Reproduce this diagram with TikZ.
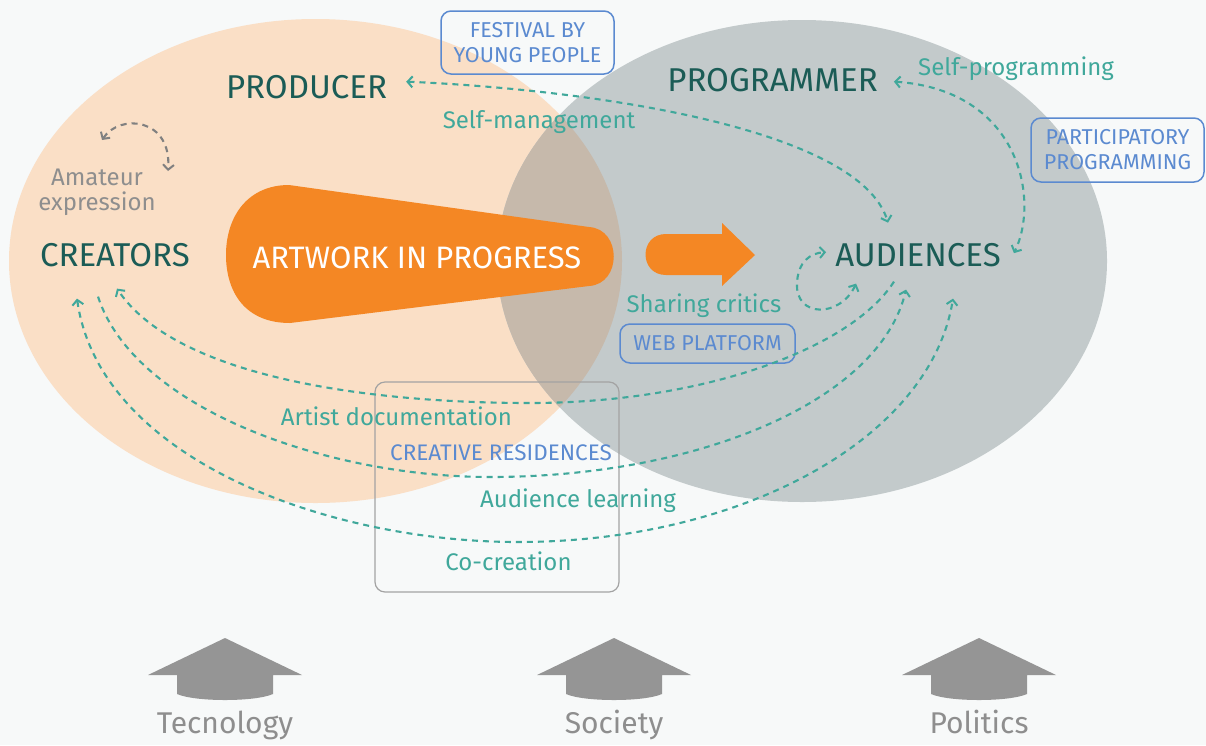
\documentclass[tikz,border=0pt]{standalone}
\usepackage{fontspec}
\setmainfont{Fira Sans}
\usepackage{tikz}
\usetikzlibrary{calc}
\usetikzlibrary{arrows.meta}

\definecolor{bgcol}{HTML}{F7F9F9}
\definecolor{peach}{HTML}{FADFC6}
\definecolor{slate}{HTML}{C3CACB}
\definecolor{mixcol}{HTML}{C6B9AB}
\definecolor{orng}{HTML}{F48724}
\definecolor{darkteal}{HTML}{1B5C56}
\definecolor{lineteal}{HTML}{40A89B}
\definecolor{boxblue}{HTML}{5B8AD0}
\definecolor{txtgrey}{HTML}{8E8E8E}
\definecolor{arrgrey}{HTML}{959595}
\definecolor{loopgrey}{HTML}{808080}
\definecolor{framegrey}{HTML}{A3A3A3}

\begin{document}
\begin{tikzpicture}[x=1pt,y=-1pt,>={Straight Barb[length=5pt,width=11pt,line width=2pt]}]
	\tikzset{
		big/.style={anchor=base,inner sep=0pt,text=darkteal,font=\fontsize{33}{36}\selectfont},
		lbl/.style={anchor=base,inner sep=0pt,text=lineteal,font=\fontsize{24}{26}\selectfont},
		tag/.style={draw=boxblue,line width=1.5pt,rounded corners=10pt,text=boxblue,align=center,inner sep=0pt,font=\fontsize{21.5}{25}\selectfont},
		link/.style={dash pattern=on 6pt off 5pt,line width=2.1pt,draw=lineteal}
	}
	\useasboundingbox (0,0) rectangle (1206,745);
	\fill[bgcol] (0,0) rectangle (1206,745);

	\fill[peach] (315.5,261) ellipse [x radius=306.5, y radius=242];
	\fill[slate] (802,261) ellipse [x radius=305, y radius=241];
	\begin{scope}
		\clip (315.5,261) ellipse [x radius=306.5, y radius=242];
		\fill[mixcol] (802,261) ellipse [x radius=305, y radius=241];
	\end{scope}

	\fill[orng] (289,185) -- (589,227) .. controls (622,229) and (622,284) .. (589,286) -- (290,323)
		.. controls (245,323) and (226,292) .. (226,255) .. controls (226,216) and (248,185) .. cycle;
	\fill[orng] (666,234) -- (722,234) -- (722,223) -- (755,255) -- (722,286) -- (722,275) -- (666,275)
		.. controls (638.7,275) and (638.7,234) .. cycle;

	\draw[framegrey,line width=1.2pt,rounded corners=10pt] (375,382) rectangle (619,592);

	\node[big] (prod) at (306.5,98) {PRODUCER};
	\node[big] (prog) at (772.5,91) {PROGRAMMER};
	\node[big] (crea) at (115,266) {CREATORS};
	\node[big] (aud) at (918,266) {AUDIENCES};
	\node[anchor=base,inner sep=0pt,text=white,font=\fontsize{31}{34}\selectfont] (art) at (417,268) {ARTWORK IN PROGRESS};
	\node[anchor=north,inner sep=0pt,align=center,text=txtgrey,font=\fontsize{24}{25}\selectfont] (amat) at (97,169) {Amateur\\expression};

	\node[lbl] (selfman) at (539,128) {Self-management};
	\node[lbl] (selfprog) at (1016,75) {Self-programming};
	\node[lbl] (share) at (704,312) {Sharing critics};
	\node[lbl] (artdoc) at (396.5,425) {Artist documentation};
	\node[lbl] (audlearn) at (578,507) {Audience learning};
	\node[lbl] (cocre) at (508.5,570) {Co-creation};
	\node[anchor=base,inner sep=0pt,text=boxblue,font=\fontsize{22.5}{25}\selectfont] (resid) at (501,460) {CREATIVE RESIDENCES};

	\node[tag,minimum width=173pt,minimum height=63pt] (fest) at (527.5,42.5) {FESTIVAL BY\\YOUNG PEOPLE};
	\node[tag,minimum width=173pt,minimum height=64pt] (part) at (1117.5,150) {PARTICIPATORY\\PROGRAMMING};
	\node[tag,minimum width=175pt,minimum height=39pt] (web) at (707.5,343.5) {WEB PLATFORM};

	\draw[link,<->] ($(prod.east)+(19,-5)$) .. controls (600,90) and (860,130) .. ($(aud.north)+(-30,-20)$);
	\draw[link,<->] ($(prog.east)+(16,2)$) .. controls (1020,90) and (1040,200) .. ($(aud.east)+(13,-1.5)$);
	\draw[link,<->] ($(aud.south west)+(21,17)$) .. controls (840,318) and (795,318) .. (797,283)
		.. controls (798,262) and (810,253) .. ($(aud.west)+(-9,-2.5)$);
	\draw[link,->] ($(aud.south)+(-24,15)$) .. controls (850,350) and (700,403) .. (530,403)
		.. controls (360,403) and (175,375) .. ($(crea.south)+(2,22)$);
	\draw[link,->] ($(crea.south)+(-17,30)$) .. controls (135,410) and (330,477) .. (490,477)
		.. controls (700,477) and (880,400) .. ($(aud.south)+(-12,23)$);
	\draw[link,<->] ($(crea.south)+(-38,32)$) .. controls (100,460) and (330,542) .. (518,542)
		.. controls (740,542) and (930,440) .. ($(aud.south)+(35,32)$);
	\draw[link,draw=loopgrey,<->] ($(amat.north)+(5,-29)$) .. controls (120,113) and (172,118) .. ($(amat.north)+(71,2)$);

	\foreach \cx/\nm/\txt in {225/tec/Tecnology,614/soc/Society,979/pol/Politics}{
		\fill[arrgrey] (\cx,638) -- (\cx+77,675) -- (\cx+48,675) -- (\cx+48,694)
			.. controls (\cx+30,702) and (\cx-30,702) .. (\cx-48,694) -- (\cx-48,675) -- (\cx-77,675) -- cycle;
		\node[anchor=base,inner sep=0pt,text=txtgrey,font=\fontsize{30}{32}\selectfont] (\nm) at (\cx,733) {\txt};
	}
\end{tikzpicture}
\end{document}
